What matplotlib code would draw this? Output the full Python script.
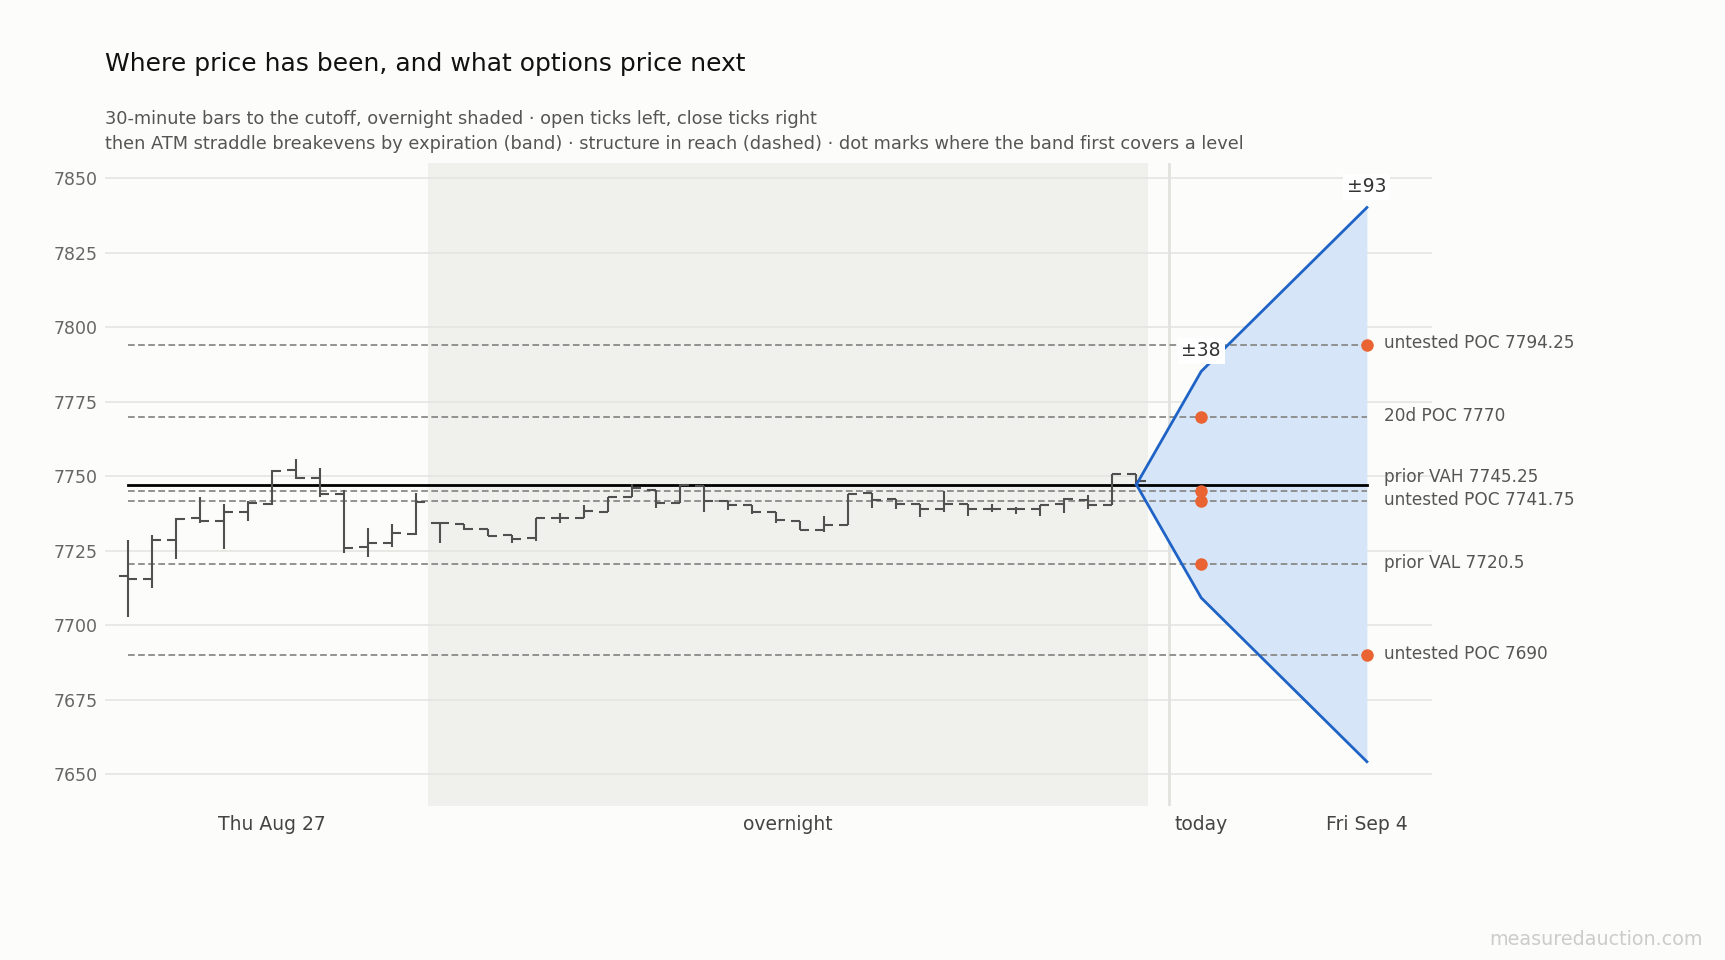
import matplotlib.pyplot as plt
import numpy as np

# 30-minute bars up to the cutoff (Thu Aug 27 day session, then overnight)
opens = [7716.6, 7715.7, 7728.6, 7735.9, 7735.0, 7738.0, 7740.7, 7752.1, 7749.4, 7744.2,
         7726.4, 7727.7, 7730.6, 7734.2, 7733.9, 7732.4, 7730.5, 7729.3, 7736.0, 7736.0,
         7738.0, 7743.2, 7745.6, 7741.0, 7746.9, 7741.8, 7740.3, 7737.9, 7735.1, 7732.0,
         7733.8, 7744.3, 7742.3, 7740.7, 7739.1, 7740.6, 7739.1, 7739.1, 7739.1, 7740.6,
         7742.2, 7740.3, 7750.8]
highs = [7728.6, 7730.3, 7735.9, 7743.0, 7740.7, 7741.8, 7752.3, 7755.8, 7752.7, 7745.6,
         7732.6, 7734.0, 7744.6, 7734.8, 7733.9, 7732.4, 7730.5, 7736.0, 7737.6, 7740.4,
         7743.2, 7747.3, 7745.6, 7747.6, 7746.9, 7741.8, 7740.3, 7737.9, 7735.1, 7736.7,
         7744.0, 7744.6, 7742.3, 7740.7, 7745.2, 7740.6, 7740.7, 7739.8, 7740.5, 7742.8,
         7743.8, 7750.8, 7750.8]
lows = [7702.9, 7712.4, 7722.2, 7734.2, 7725.5, 7735.1, 7740.4, 7749.1, 7743.2, 7724.2,
        7723.0, 7726.4, 7730.2, 7727.7, 7732.1, 7730.0, 7727.5, 7728.4, 7734.2, 7736.0,
        7738.0, 7743.2, 7739.3, 7741.0, 7738.1, 7738.7, 7737.3, 7734.2, 7732.0, 7731.4,
        7733.8, 7739.3, 7738.9, 7736.4, 7738.1, 7736.7, 7737.9, 7737.4, 7736.7, 7737.8,
        7739.0, 7740.3, 7747.4]
closes = [7715.7, 7728.6, 7735.6, 7735.0, 7738.0, 7741.2, 7751.9, 7749.3, 7744.2, 7725.9,
          7727.7, 7731.1, 7741.5, 7734.2, 7732.3, 7730.0, 7729.0, 7736.0, 7736.0, 7738.5,
          7743.2, 7746.0, 7741.0, 7747.1, 7741.8, 7740.3, 7737.9, 7735.3, 7732.0, 7733.7,
          7744.0, 7742.0, 7740.6, 7739.1, 7740.6, 7739.1, 7739.1, 7738.9, 7740.5, 7742.5,
          7740.3, 7750.8, 7748.5]
overnight_start = 13  # first overnight bar

# straddle breakevens by expiration
spot = 7747.25
exp_labels = ["today", "Fri Sep 4"]
exp_moves = [38, 93]

# structure levels
level_names = ["untested POC", "20d POC", "prior VAH", "untested POC", "prior VAL", "untested POC"]
level_values = [7794.25, 7770, 7745.25, 7741.75, 7720.5, 7690]
label_nudge = [0.4, 0.4, 4.6, 0.3, 0.4, 0.4]

BG = "#fcfcfa"
BAR = "#505050"
BLUE = "#1f63c6"
DOT = "#ea6433"

plt.rcParams["font.family"] = ["DejaVu Sans"]

n = len(closes)
x = np.arange(n)
exp_x = [n - 1 + 2.7, n - 1 + 9.6]
divider_x = n - 1 + 1.37

fig = plt.figure(figsize=(17.25, 9.6), dpi=100, facecolor=BG)
ax = fig.add_axes([0.0606, 0.160, 0.7694, 0.6704])
ax.set_facecolor(BG)

# overnight shading and today divider
ax.axvspan(overnight_start - 0.5, n - 0.5, color="#f0f0ec", lw=0, zorder=0)
ax.axvline(divider_x, color="#e2e2de", lw=2, zorder=1)

# OHLC bars
tick = 0.38
ax.vlines(x, lows, highs, color=BAR, lw=1.5, zorder=4)
ax.hlines(opens, x - tick, x, color=BAR, lw=1.5, zorder=4)
ax.hlines(closes, x, x + tick, color=BAR, lw=1.5, zorder=4)

# straddle band
band_x = [n - 1] + exp_x
upper = [spot] + [spot + m for m in exp_moves]
lower = [spot] + [spot - m for m in exp_moves]
ax.fill_between(band_x, lower, upper, color="#d6e6f8", lw=0, zorder=2)
ax.plot(band_x, upper, color=BLUE, lw=2, solid_joinstyle="round", zorder=5)
ax.plot(band_x, lower, color=BLUE, lw=2, solid_joinstyle="round", zorder=5)
for ex, m, up in zip(exp_x, exp_moves, upper[1:]):
    ax.annotate(f"±{m}", (ex, up), xytext=(0, 8), textcoords="offset points",
                ha="center", va="bottom", fontsize=13.5, color="#333333", zorder=7,
                bbox=dict(boxstyle="square,pad=0.2", fc="white", ec="none"))

# last price line
ax.plot([0, exp_x[-1]], [spot, spot], color="black", lw=2, zorder=3)

# levels, with a dot where the band first covers each one
for name, val, nudge in zip(level_names, level_values, label_nudge):
    ax.plot([0, exp_x[-1]], [val, val], color="#8a8a88", lw=1.3, dashes=(3.7, 1.9), zorder=3)
    for ex, m in zip(exp_x, exp_moves):
        if abs(val - spot) <= m:
            ax.plot(ex, val, "o", color=DOT, ms=8, zorder=6)
            break
    ax.annotate(f"{name} {val:g}", (exp_x[-1], val + nudge), xytext=(12, 0),
                textcoords="offset points", ha="left", va="center",
                fontsize=12.2, color="#555555", annotation_clip=False)

ax.set_xlim(-0.97, n - 1 + 12.3)
ax.set_ylim(min(lower) - 15, max(upper) + 15)

ax.set_yticks(np.arange(7650, 7851, 25))
ax.grid(axis="y", color="#e4e4e0", lw=1.2, zorder=0)
ax.set_axisbelow(True)
ax.set_xticks([(overnight_start - 1) / 2, (overnight_start - 0.5 + n - 0.5) / 2] + exp_x)
ax.set_xticklabels(["Thu Aug 27", "overnight"] + exp_labels)
ax.tick_params(axis="x", length=0, labelsize=13.5, labelcolor="#444444", pad=6)
ax.tick_params(axis="y", length=0, labelsize=12.5, labelcolor="#666666", pad=5)
for s in ax.spines.values():
    s.set_visible(False)

fig.text(0.0606, 0.933, "Where price has been, and what options price next",
         fontsize=18, color="#111111", va="center")
fig.text(0.0606, 0.876, "30-minute bars to the cutoff, overnight shaded · open ticks left, close ticks right",
         fontsize=12.75, color="#555555", va="center")
fig.text(0.0606, 0.850, "then ATM straddle breakevens by expiration (band) · structure in reach (dashed) · "
         "dot marks where the band first covers a level",
         fontsize=12.75, color="#555555", va="center")
fig.text(0.987, 0.021, "measuredauction.com", fontsize=13.8, color="#cccccc", ha="right", va="center")

fig.savefig("out.png", dpi=100, facecolor=BG)
plt.close("all")
